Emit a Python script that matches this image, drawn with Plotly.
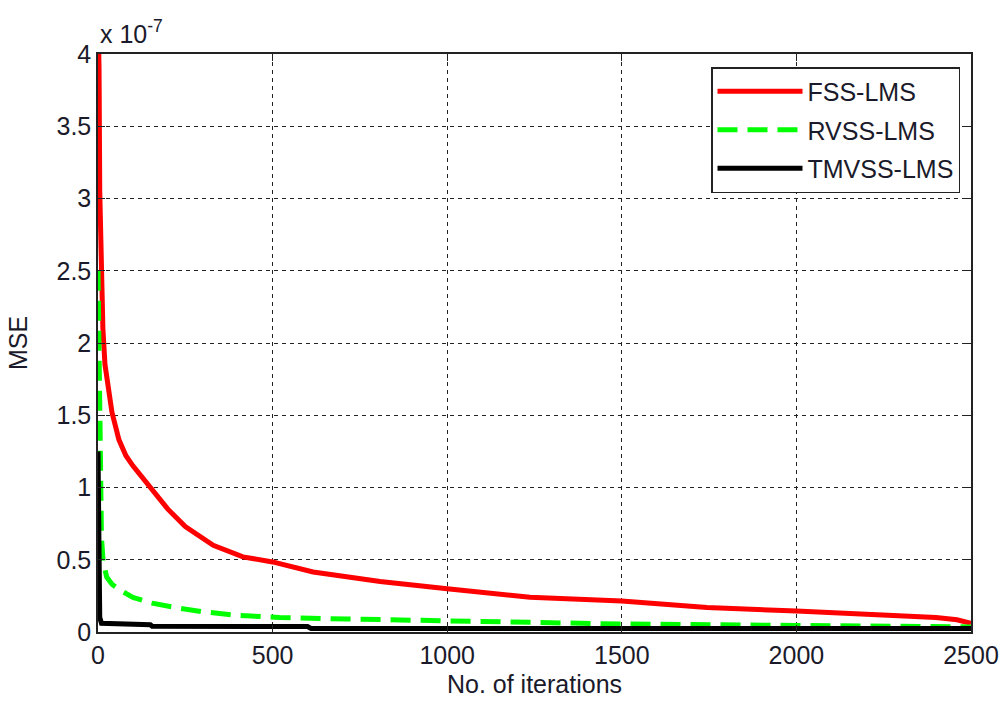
import plotly.graph_objects as go

# MSE learning curves (values in units of 1e-7)
fss_iter = [0, 3, 5, 8, 14, 20, 28, 40, 60, 80, 100, 120, 140, 170, 200, 250, 290,
            330, 415, 500, 616, 808, 1000, 1237, 1500, 1744, 2000, 2250, 2400,
            2460, 2500]
fss_mse = [4.3, 3.9, 3.05, 2.55, 2.1, 1.85, 1.7, 1.52, 1.33, 1.22, 1.15, 1.09,
           1.02, 0.93, 0.85, 0.73, 0.66, 0.60, 0.52, 0.485, 0.415, 0.35, 0.30,
           0.24, 0.215, 0.17, 0.145, 0.12, 0.10, 0.085, 0.06]

rvss_iter = [0, 2, 4, 6, 10, 15, 25, 40, 63, 100, 155, 230, 300, 400, 520, 713,
             1000, 1265, 1500, 2000, 2500]
rvss_mse = [2.5, 2.0, 1.5, 1.0, 0.65, 0.48, 0.38, 0.33, 0.29, 0.24, 0.20, 0.165,
            0.14, 0.115, 0.10, 0.09, 0.075, 0.06, 0.055, 0.045, 0.035]

tmvss_iter = [0, 3, 5, 10, 150, 155, 600, 610, 2500]
tmvss_mse = [1.25, 0.3, 0.1, 0.06, 0.05, 0.04, 0.038, 0.025, 0.025]

x_ticks = [0, 500, 1000, 1500, 2000, 2500]
x_tick_labels = ["0", "500", "1000", "1500", "2000", "2500"]
y_ticks = [0, 0.5, 1, 1.5, 2, 2.5, 3, 3.5, 4]
y_tick_labels = ["0", "0.5", "1", "1.5", "2", "2.5", "3", "3.5", "4"]

FONT = "Liberation Sans, Arial, sans-serif"
TXT = "#1a1a2a"

fig = go.Figure()
fig.add_trace(go.Scatter(x=fss_iter, y=fss_mse, mode="lines", name="FSS-LMS",
                         legendgroup="a", line=dict(color="#ff0000", width=5)))
fig.add_trace(go.Scatter(x=rvss_iter, y=rvss_mse, mode="lines", name="RVSS-LMS",
                         legendgroup="b",
                         line=dict(color="#00ff00", width=5, dash="20px,10px")))
fig.add_trace(go.Scatter(x=tmvss_iter, y=tmvss_mse, mode="lines", name="TMVSS-LMS",
                         legendgroup="c", line=dict(color="#000000", width=5)))

axis_common = dict(
    showline=True, linecolor="#222222", linewidth=1.5, mirror="ticks",
    ticks="inside", ticklen=7, tickcolor="#222222",
    showgrid=True, gridcolor="#222222", gridwidth=1, griddash="4px,4px",
    zeroline=False, automargin=False,
    tickfont=dict(family=FONT, size=25, color=TXT),
)

fig.update_xaxes(range=[0, 2500], tickvals=x_ticks, ticktext=x_tick_labels,
                 title=dict(text="No. of iterations", standoff=8,
                            font=dict(family=FONT, size=25, color=TXT)),
                 **axis_common)
fig.update_yaxes(range=[0, 4], tickvals=y_ticks, ticktext=y_tick_labels,
                 title=dict(text="MSE", standoff=22,
                            font=dict(family=FONT, size=25, color=TXT)),
                 **axis_common)

fig.add_annotation(xref="paper", yref="paper", x=0, y=1, xanchor="left",
                   yanchor="bottom", yshift=4, showarrow=False,
                   text="x 10<sup>-7</sup>",
                   font=dict(family=FONT, size=25, color=TXT))

fig.update_layout(
    width=1004, height=704,
    margin=dict(l=98, r=33, t=54, b=72),
    paper_bgcolor="white", plot_bgcolor="white",
    showlegend=True,
    legend=dict(x=0.9874, y=0.9775, xanchor="right", yanchor="top",
                bgcolor="white", bordercolor="#222222", borderwidth=1.5,
                font=dict(family=FONT, size=25, color=TXT),
                itemwidth=85, tracegroupgap=3, traceorder="grouped"),
)

fig.write_html("out.html")
